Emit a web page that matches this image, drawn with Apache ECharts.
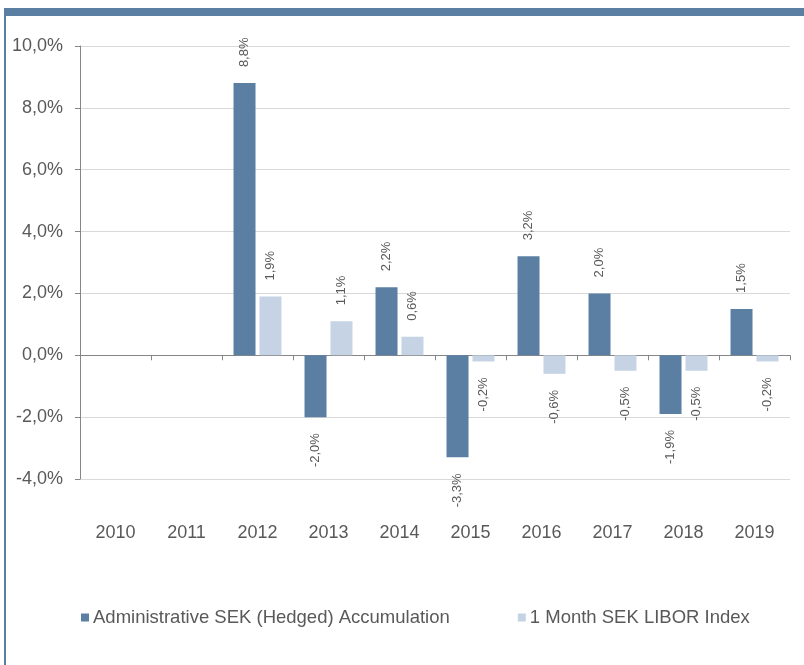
<!DOCTYPE html>
<html><head><meta charset="utf-8">
<script src="https://cdn.jsdelivr.net/npm/echarts@6/dist/echarts.min.js"></script>
<style>html,body{margin:0;padding:0;background:#fff}#c{width:804px;height:665px}</style>
</head><body><div id="c"></div>
<script>
var categories = ['2010','2011','2012','2013','2014','2015','2016','2017','2018','2019'];
var fundValues = [null, null, 8.8, -2.0, 2.2, -3.3, 3.2, 2.0, -1.9, 1.5];
var indexValues = [null, null, 1.9, 1.1, 0.6, -0.2, -0.6, -0.5, -0.5, -0.2];
var seriesNames = ['Administrative SEK (Hedged) Accumulation', '1 Month SEK LIBOR Index'];
var yTicks = [-4, -2, 0, 2, 4, 6, 8, 10];

var DARK = '#5b7fa3', LIGHT = '#c5d3e4', TXT = '#595959';
function fmt(v){ return v.toFixed(1).replace('.', ',') + '%'; }
function items(arr){
  return arr.map(function(v){
    if (v === null) return null;
    var pos = v >= 0;
    return {value: v, label: {show: true, position: pos ? 'top' : 'bottom', rotate: 90,
      align: pos ? 'left' : 'right', verticalAlign: 'middle', distance: 16,
      color: TXT, fontSize: 13, fontFamily: 'Liberation Sans', formatter: function(p){return fmt(p.value);}}};
  });
}
var chart = echarts.init(document.getElementById('c'));
chart.setOption({
  animation: false,
  textStyle: {fontFamily: 'Liberation Sans'},
  graphic: [
    {type: 'rect', shape: {x: 5, y: 8, width: 799, height: 8}, style: {fill: DARK}},
    {type: 'rect', shape: {x: 4, y: 8, width: 2, height: 657}, style: {fill: DARK}}
  ],
  grid: {left: 80, top: 46, right: 14, bottom: 186},
  legend: {
    data: seriesNames, left: 76, top: 603, icon: 'rect', itemWidth: 8, itemHeight: 8, itemGap: 68,
    textStyle: {color: TXT, fontSize: 18.5, fontFamily: 'Liberation Sans', padding: [0,0,0,-1]}
  },
  xAxis: [
    {type: 'category', data: categories, axisLine: {onZero: true, lineStyle: {color: '#868686'}},
     axisTick: {show: true, length: 5, lineStyle: {color: '#868686'}}, axisLabel: {show: false}},
    {type: 'category', data: categories, position: 'bottom', axisLine: {show: false, onZero: false},
     axisTick: {show: false}, axisLabel: {color: TXT, fontSize: 18, margin: 45, fontFamily: 'Liberation Sans'}}
  ],
  yAxis: {
    type: 'value', min: -4, max: 10, interval: 2,
    axisLine: {show: true, lineStyle: {color: '#868686'}},
    axisTick: {show: true, length: 5, lineStyle: {color: '#868686'}},
    splitLine: {lineStyle: {color: '#d9d9d9'}},
    axisLabel: {color: TXT, fontSize: 18, margin: 17, fontFamily: 'Liberation Sans',
      formatter: function(v){ return yTicks.indexOf(v) >= 0 ? fmt(v) : ''; }}
  },
  series: [
    {name: seriesNames[0], type: 'bar', xAxisIndex: 0, data: items(fundValues), barWidth: 22, barGap: '18%', itemStyle: {color: DARK}},
    {name: seriesNames[1], type: 'bar', xAxisIndex: 0, data: items(indexValues), barWidth: 22, itemStyle: {color: LIGHT}}
  ]
});
</script></body></html>
